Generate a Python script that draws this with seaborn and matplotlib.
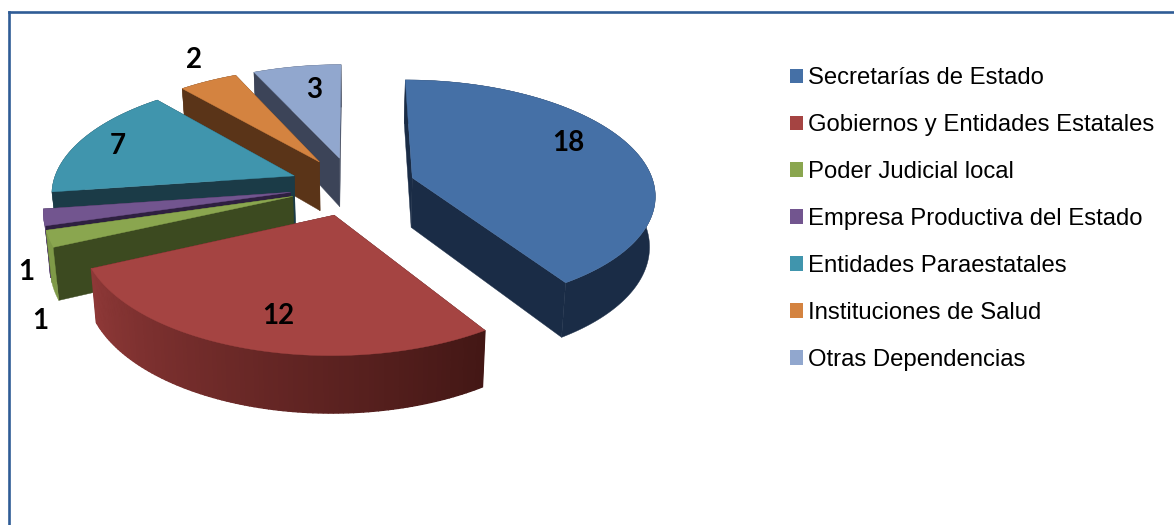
import numpy as np
import matplotlib
matplotlib.use("Agg")
import matplotlib.pyplot as plt
from matplotlib.patches import Patch
import seaborn as sns

categories = ["Secretarías de Estado", "Gobiernos y Entidades Estatales", "Poder Judicial local",
              "Empresa Productiva del Estado", "Entidades Paraestatales", "Instituciones de Salud",
              "Otras Dependencias"]
values = [18, 12, 1, 1, 7, 2, 3]
top_colors = ["#4570A6", "#A54442", "#8AA64F", "#72558F", "#4095AD", "#D48340", "#91A7CE"]
wall_colors = ["#1A2C46", "#4A1B1A", "#3C4A20", "#2E2040", "#1B3B47", "#5A3418", "#3C4458"]
rim_colors = ["#1A2C46", "#8E3837", "#7F9A48", "#5A4372", "#1B3B47", "#5A3418", "#3C4458"]
rim_end_colors = ["#1A2C46", "#431715", "#7F9A48", "#5A4372", "#1B3B47", "#5A3418", "#3C4458"]
label_xy = [(568, 143), (278, 316), (40, 321), (26, 272), (118, 146), (194, 60), (314, 90)]
paint_order = [6, 5, 4, 3, 2, 0, 1]

W, H = 1174, 525
CX, CY, RX, RY, PERSP, EXPLODE = 352.5, 186, 242, 113, 0.134, 0.26
DEPTH, DEPTH_GROW, DEPTH_SHRINK = 50, 6, 0.981


def project(u, v, bottom=False):
    s = 1 / (1 - PERSP * v)
    x = CX + RX * u * s
    y = CY + RY * v * s
    if bottom:
        x = CX + (x - CX) * DEPTH_SHRINK
        y = y + DEPTH + DEPTH_GROW * v
    return x, y


sns.set_theme(style="white")
plt.rcParams["font.family"] = ["Liberation Sans", "DejaVu Sans"]
fig = plt.figure(figsize=(W / 100, H / 100), dpi=100)
left, top = 9, 11.5
ax = fig.add_axes([left / W, 0, (W - left) / W, (H - top) / H])
ax.set_xlim(left, W)
ax.set_ylim(H, top)
ax.set_xticks([])
ax.set_yticks([])
sns.despine(ax=ax, top=False, left=False, right=True, bottom=True)
for side in ("left", "top"):
    ax.spines[side].set_color("#2F5C96")
    ax.spines[side].set_linewidth(1.9)

edges = np.concatenate([[0], np.cumsum(values)]) / np.sum(values) * 2 * np.pi

for i in paint_order:
    a0, a1 = edges[i], edges[i + 1]
    mid = (a0 + a1) / 2
    ou, ov = EXPLODE * np.sin(mid), -EXPLODE * np.cos(mid)
    th = np.linspace(a0, a1, max(8, int(np.degrees(a1 - a0))))
    u = ou + np.sin(th)
    v = ov - np.cos(th)
    xt, yt = project(u, v)
    xb, yb = project(u, v, bottom=True)
    ax0t, ay0t = project(ou, ov)
    ax0b, ay0b = project(ou, ov, bottom=True)
    # radial walls
    for k in (0, -1):
        ax.fill([ax0t, xt[k], xb[k], ax0b], [ay0t, yt[k], yb[k], ay0b],
                color=wall_colors[i], lw=0.3, zorder=1)
    # outer wall, shaded along the arc when two shades are given
    if rim_colors[i] == rim_end_colors[i]:
        ax.fill(np.r_[xt, xb[::-1]], np.r_[yt, yb[::-1]], color=rim_colors[i], lw=0.3, zorder=1)
    else:
        c0 = np.array(matplotlib.colors.to_rgb(rim_colors[i]))
        c1 = np.array(matplotlib.colors.to_rgb(rim_end_colors[i]))
        n = len(th) - 1
        for k in range(n):
            t = 1 - k / max(n - 1, 1)
            ax.fill([xt[k], xt[k + 1], xb[k + 1], xb[k]], [yt[k], yt[k + 1], yb[k + 1], yb[k]],
                    color=c0 * (1 - t) + c1 * t, lw=1.0, zorder=1)
    # top face
    ax.fill(np.r_[ax0t, xt], np.r_[ay0t, yt], color=top_colors[i], lw=0.3, zorder=1)

for val, (lx, ly) in zip(values, label_xy):
    ax.text(lx, ly, str(val), family=["Lato", "DejaVu Sans"], weight="bold", fontsize=20,
            color="black", ha="center", va="center", zorder=3)

handles = [Patch(facecolor=c, edgecolor="none", label=n) for c, n in zip(top_colors, categories)]
leg = ax.legend(handles=handles, loc="upper left",
                bbox_to_anchor=((783 - left) / (W - left), 1 - (60 - top) / (H - top)),
                frameon=False, fontsize=17.2, handlelength=0.55, handleheight=0.55, handletextpad=0.21,
                labelspacing=1.046, borderpad=0.3, borderaxespad=0, labelcolor="black")

fig.savefig("out.png", dpi=100)
